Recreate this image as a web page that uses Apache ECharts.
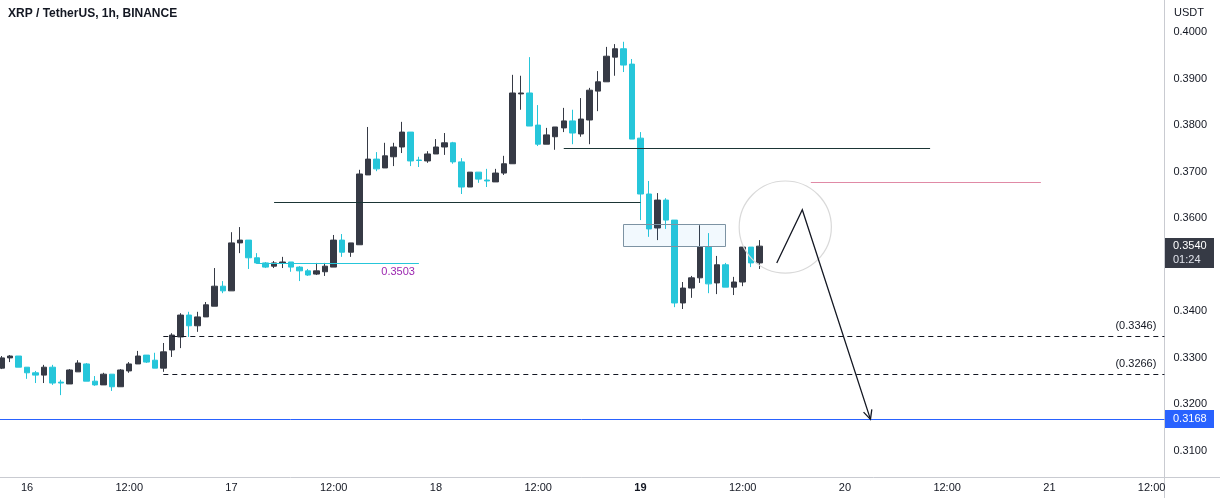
<!DOCTYPE html>
<html><head><meta charset="utf-8">
<script src="https://cdn.jsdelivr.net/npm/echarts@6/dist/echarts.min.js"></script>
<style>html,body{margin:0;padding:0;background:#fff}#c{width:1220px;height:499px}</style>
</head><body><div id="c"></div>
<script>
// ---- data (hour index h: 0 = day 16 00:00) ----
const firstHour = -3, lastHour = 133;
const opens  = [0.3278,0.3300,0.3304,0.3280,0.3268,0.3263,0.3280,0.3248,0.3244,0.3270,0.3287,0.3250,0.3242,0.3265,0.3238,0.3272,0.3287,0.3306,0.3295,0.3278,0.3317,0.3345,0.3392,0.3369,0.3388,0.3411,0.3454,0.3444,0.3547,0.3553,0.3515,0.3504,0.3497,0.3504,0.3506,0.3495,0.3487,0.3480,0.3485,0.3495,0.3553,0.3527,0.3543,0.3693,0.3727,0.3708,0.3732,0.3753,0.3785,0.3725,0.3723,0.3738,0.3753,0.3762,0.3721,0.3667,0.3699,0.3682,0.3678,0.3697,0.3717,0.3867,0.3869,0.3800,0.3759,0.3775,0.3794,0.3809,0.3781,0.3811,0.3873,0.3893,0.3946,0.3964,0.3931,0.3772,0.3652,0.3579,0.3639,0.3596,0.3418,0.3450,0.3472,0.3538,0.3461,0.3500,0.3452,0.3463,0.3538,0.3504];
const closes = [0.3300,0.3304,0.3280,0.3268,0.3263,0.3280,0.3246,0.3246,0.3274,0.3289,0.3250,0.3242,0.3265,0.3238,0.3274,0.3287,0.3304,0.3291,0.3278,0.3313,0.3349,0.3392,0.3369,0.3388,0.3414,0.3454,0.3444,0.3547,0.3553,0.3515,0.3504,0.3495,0.3504,0.3506,0.3495,0.3487,0.3478,0.3487,0.3497,0.3553,0.3527,0.3547,0.3695,0.3727,0.3706,0.3734,0.3753,0.3785,0.3723,0.3724,0.3738,0.3753,0.3762,0.3721,0.3667,0.3699,0.3684,0.3680,0.3697,0.3717,0.3869,0.3869,0.3798,0.3759,0.3779,0.3796,0.3809,0.3783,0.3813,0.3875,0.3893,0.3948,0.3964,0.3929,0.3770,0.3652,0.3577,0.3639,0.3596,0.3418,0.3450,0.3472,0.3538,0.3459,0.3500,0.3452,0.3463,0.3538,0.3504,0.3540];
const lows   = [0.3276,0.3291,0.3280,0.3255,0.3246,0.3246,0.3242,0.3220,0.3244,0.3270,0.3250,0.3240,0.3242,0.3229,0.3238,0.3268,0.3287,0.3289,0.3278,0.3270,0.3302,0.3321,0.3345,0.3356,0.3388,0.3411,0.3439,0.3444,0.3525,0.3491,0.3502,0.3493,0.3493,0.3493,0.3485,0.3465,0.3476,0.3478,0.3476,0.3495,0.3517,0.3517,0.3543,0.3693,0.3701,0.3708,0.3712,0.3740,0.3712,0.3710,0.3719,0.3738,0.3736,0.3717,0.3652,0.3667,0.3676,0.3667,0.3678,0.3693,0.3717,0.3833,0.3798,0.3755,0.3759,0.3747,0.3785,0.3759,0.3775,0.3759,0.3830,0.3893,0.3906,0.3914,0.3770,0.3596,0.3560,0.3553,0.3577,0.3409,0.3405,0.3429,0.3461,0.3439,0.3437,0.3452,0.3435,0.3454,0.3495,0.3491];
const highs  = [0.3304,0.3306,0.3304,0.3280,0.3272,0.3285,0.3285,0.3253,0.3276,0.3295,0.3289,0.3261,0.3268,0.3265,0.3276,0.3291,0.3315,0.3306,0.3311,0.3332,0.3353,0.3396,0.3399,0.3399,0.3420,0.3493,0.3465,0.3570,0.3581,0.3553,0.3525,0.3506,0.3508,0.3517,0.3506,0.3497,0.3491,0.3504,0.3504,0.3564,0.3566,0.3547,0.3704,0.3796,0.3742,0.3762,0.3762,0.3807,0.3785,0.3732,0.3744,0.3770,0.3783,0.3764,0.3729,0.3699,0.3699,0.3706,0.3706,0.3734,0.3908,0.3906,0.3946,0.3843,0.3794,0.3796,0.3837,0.3833,0.3858,0.3880,0.3916,0.3968,0.3974,0.3979,0.3942,0.3785,0.3680,0.3654,0.3643,0.3596,0.3463,0.3476,0.3585,0.3568,0.3519,0.3504,0.3474,0.3538,0.3538,0.3553];

const lastPrice = 0.3540, countdown = '01:24';
const targetPrice = 0.3168;
const dashedLevels = [0.3346, 0.3266];
const dashedStartHour = 16;
const darkLines = [[29, 72, 0.3635], [63, 106, 0.3751]];   // [hStart, hEnd, price]
const cyanLines = [[27, 46, 0.3503]];
const pinkLines = [[92, 119, 0.3678]];
const zoneBox = [[70, 82, 0.3588, 0.3540]];                 // [h1, h2, top, bottom]
const circleMark = [[89, 0.3581, 0.3680]];                  // [h, centre price, top price]
const arrowPath = [[88, 0.3504, 91, 0.3618, 99, 0.3168]];   // three points
const yMin = 0.30, yMax = 0.41, yStep = 0.01;

const hours = [];
for (let h = firstHour; h <= lastHour; h++) {
  const d = 16 + Math.floor(h / 24), hh = ((h % 24) + 24) % 24;
  hours.push(d + ' ' + String(hh).padStart(2, '0') + ':00');
}
const candleData = opens.map((o, i) => [o, closes[i], lows[i], highs[i]]);

const FONT = '"Liberation Sans", Arial, sans-serif';
const TXT = '#131722';
const UP = '#363a45', DOWN = '#26c6da';
const AXIS = '#c9cbd1';

function crisp(v) { return Math.round(v) + 0.5; }

function lineSeries(data, color, opts) {
  opts = opts || {};
  return {
    type: 'custom', xAxisIndex: 1, yAxisIndex: 0, silent: true, animation: false, z: 5, clip: false,
    data: data,
    renderItem: function (params, api) {
      const a = api.coord([api.value(0), api.value(2)]);
      const b = api.coord([api.value(1), api.value(2)]);
      const y = crisp(a[1]);
      const children = [{
        type: 'line', shape: { x1: a[0], y1: y, x2: b[0], y2: y },
        style: { stroke: color, lineWidth: 1, lineDash: opts.dash || null }
      }];
      if (opts.label) {
        const lb = opts.label(api.value(2));
        children.push({
          type: 'text', x: b[0] + lb.dx, y: y + lb.dy,
          style: { text: lb.text, fill: lb.color, font: '11px ' + FONT, align: 'right', verticalAlign: lb.va }
        });
      }
      return { type: 'group', children: children };
    }
  };
}

// price tags on the right axis: [price, kind] (0 = target, 1 = last price)
const tagData = [[targetPrice, 0], [lastPrice, 1]];

const option = {
  animation: false,
  backgroundColor: '#ffffff',
  title: [
    { text: 'XRP / TetherUS, 1h, BINANCE', left: 8, top: 8, padding: 0,
      textStyle: { fontSize: 12, fontWeight: 'bold', color: TXT, fontFamily: FONT } },
    { text: 'USDT', left: 1174, top: 7, padding: 0,
      textStyle: { fontSize: 11, fontWeight: 'normal', color: TXT, fontFamily: FONT } }
  ],
  graphic: [{ type: 'line', shape: { x1: 1164, y1: 477.5, x2: 1220, y2: 477.5 }, style: { stroke: AXIS, lineWidth: 1 }, silent: true }],
  grid: { left: -2.81, right: 55.6, top: -14.56, bottom: 1.44, containLabel: false, outerBoundsMode: 'none' },
  xAxis: [
    {
      type: 'category', data: hours, boundaryGap: true, offset: -20.56,
      axisLine: { show: true, lineStyle: { color: AXIS, width: 1 } },
      axisTick: { show: false }, splitLine: { show: false },
      axisLabel: {
        margin: 5, fontSize: 11, color: TXT, fontFamily: FONT,
        interval: function (i) { return (i + firstHour) % 12 === 0; },
        formatter: function (v, i) {
          const h = i + firstHour;
          if (h % 24 === 0) {
            const d = 16 + h / 24;
            return d === 19 ? '{b|19}' : String(d);
          }
          return '12:00';
        },
        rich: { b: { fontWeight: 'bold', fontSize: 11, color: TXT, fontFamily: FONT } }
      }
    },
    { type: 'value', min: firstHour - 0.5, max: lastHour + 0.5, show: false }
  ],
  yAxis: [{
    type: 'value', position: 'right', min: yMin, max: yMax, interval: yStep,
    axisLine: { show: true, onZero: false, lineStyle: { color: AXIS, width: 1 } },
    axisTick: { show: false }, splitLine: { show: false },
    axisLabel: {
      margin: 9, fontSize: 11, color: TXT, fontFamily: FONT, showMinLabel: false, showMaxLabel: false,
      formatter: function (v) { return Math.abs(v - 0.35) < 1e-6 ? '' : v.toFixed(4); }
    }
  }],
  series: [
    {
      type: 'candlestick', xAxisIndex: 0, yAxisIndex: 0, data: candleData, barWidth: 6, z: 3,
      itemStyle: { color: UP, color0: DOWN, borderColor: UP, borderColor0: DOWN, borderWidth: 1 }
    },
    lineSeries(darkLines, '#1b3535'),
    lineSeries(cyanLines, '#26c6da', { label: function (p) { return { text: p.toFixed(4), dx: -4, dy: 3, va: 'top', color: '#9c27b0' }; } }),
    lineSeries(pinkLines, '#e08aa6'),
    lineSeries(dashedLevels.map(function (p) { return [dashedStartHour, lastHour + 0.5, p]; }), '#131722',
      { dash: [5, 4], label: function (p) { return { text: '(' + p.toFixed(4) + ')', dx: -8, dy: -5, va: 'bottom', color: TXT }; } }),
    lineSeries([[firstHour - 0.5, lastHour + 0.5, targetPrice]], '#2962ff'),
    {
      type: 'custom', xAxisIndex: 1, yAxisIndex: 0, silent: true, animation: false, z: 10, clip: false, data: tagData,
      renderItem: function (params, api) {
        const p = api.value(0), kind = api.value(1);
        const pt = api.coord([lastHour + 0.5, p]);
        const x = Math.round(pt[0]) + 1, y = Math.round(pt[1]);
        if (kind === 0) {
          return { type: 'group', children: [
            { type: 'rect', shape: { x: x, y: y - 9, width: 49, height: 18 }, style: { fill: '#2962ff' } },
            { type: 'text', x: x + 8, y: y, style: { text: p.toFixed(4), fill: '#ffffff', font: '11px ' + FONT, align: 'left', verticalAlign: 'middle' } }
          ] };
        }
        return { type: 'group', children: [
          { type: 'rect', shape: { x: x, y: y - 8, width: 49, height: 30 }, style: { fill: '#363a45' } },
          { type: 'text', x: x + 8, y: y, style: { text: p.toFixed(4), fill: '#ffffff', font: '11px ' + FONT, align: 'left', verticalAlign: 'middle' } },
          { type: 'text', x: x + 8, y: y + 14, style: { text: countdown, fill: '#e0e3eb', font: '11px ' + FONT, align: 'left', verticalAlign: 'middle' } }
        ] };
      }
    },
    {
      type: 'custom', xAxisIndex: 1, yAxisIndex: 0, silent: true, animation: false, z: 6, clip: false, data: zoneBox,
      renderItem: function (params, api) {
        const a = api.coord([api.value(0), api.value(2)]);
        const b = api.coord([api.value(1), api.value(3)]);
        return { type: 'rect', shape: { x: crisp(a[0]), y: crisp(a[1]), width: Math.round(b[0] - a[0]), height: Math.round(b[1] - a[1]) },
          style: { fill: 'rgba(33,150,243,0.06)', stroke: '#7d93a3', lineWidth: 1 } };
      }
    },
    {
      type: 'custom', xAxisIndex: 1, yAxisIndex: 0, silent: true, animation: false, z: 6, clip: false, data: circleMark,
      renderItem: function (params, api) {
        const c = api.coord([api.value(0), api.value(1)]);
        const t = api.coord([api.value(0), api.value(2)]);
        return { type: 'circle', shape: { cx: c[0], cy: c[1], r: Math.abs(c[1] - t[1]) },
          style: { fill: 'rgba(0,0,0,0)', stroke: '#d9d9d9', lineWidth: 1.2 } };
      }
    },
    {
      type: 'custom', xAxisIndex: 1, yAxisIndex: 0, silent: true, animation: false, z: 7, clip: false, data: arrowPath,
      renderItem: function (params, api) {
        const p1 = api.coord([api.value(0), api.value(1)]);
        const p2 = api.coord([api.value(2), api.value(3)]);
        const p3 = api.coord([api.value(4), api.value(5)]);
        const dx = p3[0] - p2[0], dy = p3[1] - p2[1], L = Math.hypot(dx, dy);
        const ux = dx / L, uy = dy / L, len = 10, ang = Math.PI / 7;
        function rot(a) { const c = Math.cos(a), s = Math.sin(a); return [-(ux * c - uy * s) * len + p3[0], -(ux * s + uy * c) * len + p3[1]]; }
        return { type: 'group', children: [
          { type: 'polyline', shape: { points: [p1, p2, p3] }, style: { stroke: '#131722', lineWidth: 1.3, fill: null } },
          { type: 'polyline', shape: { points: [rot(ang), p3, rot(-ang)] }, style: { stroke: '#131722', lineWidth: 1.3, fill: null } }
        ] };
      }
    }
  ]
};

const chart = echarts.init(document.getElementById('c'), null, { renderer: 'canvas' });
chart.setOption(option);
</script>
</body></html>
